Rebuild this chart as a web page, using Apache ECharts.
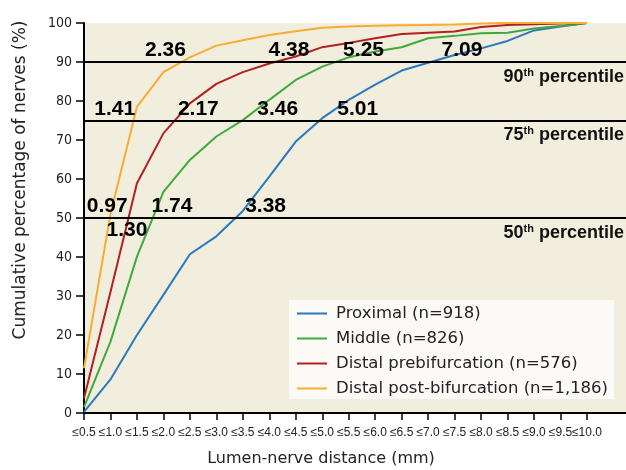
<!DOCTYPE html>
<html>
<head>
<meta charset="utf-8">
<script src="https://cdn.jsdelivr.net/npm/echarts@6/dist/echarts.min.js"></script>
<style>html,body{margin:0;padding:0;background:#fff;}#c{width:626px;height:470px;}</style>
</head>
<body>
<div id="c"></div>
<script>
// Lumen-nerve distance categories (mm, "≤" value)
const distances = [0.5, 1.0, 1.5, 2.0, 2.5, 3.0, 3.5, 4.0, 4.5, 5.0, 5.5, 6.0, 6.5, 7.0, 7.5, 8.0, 8.5, 9.0, 9.5, 10.0];
const seriesNames = ['Proximal (n=918)', 'Middle (n=826)', 'Distal prebifurcation (n=576)', 'Distal post-bifurcation (n=1,186)'];
const proximal   = [0.3, 8.6, 20.0, 30.3, 40.7, 45.3, 51.8, 60.6, 69.6, 75.6, 80.3, 84.2, 87.8, 89.8, 91.8, 93.5, 95.4, 98.1, 99.1, 100];
const middle     = [1.5, 18.3, 40.1, 56.7, 64.9, 70.9, 75.1, 80.3, 85.4, 88.8, 91.2, 92.7, 93.8, 96.1, 96.7, 97.4, 97.5, 98.6, 99.2, 100];
const distalPre  = [3.8, 31.0, 58.9, 71.7, 79.4, 84.4, 87.4, 89.6, 91.4, 93.8, 94.9, 96.1, 97.2, 97.5, 97.8, 99.0, 99.5, 99.7, 99.9, 100];
const distalPost = [11.5, 51.0, 78.5, 87.4, 91.2, 94.2, 95.6, 96.9, 97.9, 98.8, 99.1, 99.3, 99.4, 99.5, 99.6, 99.9, 100, 100, 100, 100];
const yTicks = [0, 10, 20, 30, 40, 50, 60, 70, 80, 90, 100];
// percentile reference lines
const percentileLevels = [90, 75, 50];
const percentileOrdinals = ['90', '75', '50'];
// percentile distance annotations
const annotText  = ['2.36', '4.38', '5.25', '7.09', '1.41', '2.17', '3.46', '5.01', '0.97', '1.74', '3.38', '1.30'];
const annotLevel = [90, 90, 90, 90, 75, 75, 75, 75, 50, 50, 50, 50];
const annotAnchorX = [2.04, 4.37, 5.78, 7.64, 1.08, 2.66, 4.16, 5.67, 0.94, 2.16, 3.93, 1.31];
const annotBelow = [false, false, false, false, false, false, false, false, false, false, false, true];

const colors = ['#2a78c0', '#3faa3b', '#b3201f', '#f9ac34'];
const allSeries = [proximal, middle, distalPre, distalPost];

const chart = echarts.init(document.getElementById('c'), null, {renderer: 'canvas'});

const lineSeries = allSeries.map((vals, k) => ({
  name: seriesNames[k],
  type: 'line',
  symbol: 'none',
  showSymbol: false,
  z: 3,
  data: distances.map((d, i) => [d, vals[i]]),
  lineStyle: {color: colors[k], width: 2},
  itemStyle: {color: colors[k]}
}));

lineSeries[0].markLine = {
  silent: true,
  symbol: ['none', 'none'],
  animation: false,
  lineStyle: {color: '#000', width: 2, type: 'solid'},
  data: percentileLevels.map((p, i) => ({
    yAxis: p,
    label: {
      show: true,
      position: 'insideEndBottom',
      distance: [2, 5],
      formatter: '{n|' + percentileOrdinals[i] + '}{s|th}{n| percentile}',
      rich: {
        n: {fontFamily: 'Liberation Sans', fontWeight: 'bold', fontSize: 18, color: '#111', lineHeight: 20},
        s: {fontFamily: 'Liberation Sans', fontWeight: 'bold', fontSize: 11, color: '#111', verticalAlign: 'top', lineHeight: 11}
      }
    }
  }))
};

const annotSeries = {
  name: 'annotations',
  type: 'scatter',
  symbolSize: 0,
  silent: true,
  z: 5,
  itemStyle: {opacity: 1},
  data: annotText.map((t, i) => ({
    value: [annotAnchorX[i], annotLevel[i], t],
    label: {offset: [0, annotBelow[i] ? 12.5 : -11.5]}
  })),
  label: {
    show: true,
    position: 'inside',
    formatter: p => p.value[2],
    fontFamily: 'Liberation Sans',
    fontWeight: 'bold',
    fontSize: 21,
    color: '#000',
    opacity: 1,
    textBorderWidth: 0
  }
};

chart.setOption({
  animation: false,
  backgroundColor: '#fff',
  grid: {
    left: 84, right: 0, top: 23, bottom: 57,
    show: true, backgroundColor: '#f2eedd', borderWidth: 0,
    containLabel: false, outerBoundsMode: 'none'
  },
  legend: {
    data: seriesNames,
    orient: 'vertical',
    left: 289, top: 300,
    icon: 'rect',
    itemWidth: 30, itemHeight: 2, itemGap: 8,
    backgroundColor: '#fbfaf6',
    padding: [5, 6, 2, 8],
    textStyle: {fontFamily: 'DejaVu Sans', fontSize: 16.5, color: '#222', padding: [0, 0, 0, 4]}
  },
  xAxis: {
    type: 'value',
    min: 0.5,
    max: 10.737,
    axisLine: {show: true, onZero: false, lineStyle: {color: '#000', width: 2}},
    axisTick: {show: true, length: 7, customValues: distances, lineStyle: {color: '#000', width: 1.5}},
    axisLabel: {
      customValues: distances,
      formatter: v => '≤' + Number(v).toFixed(1),
      fontFamily: 'Liberation Sans', fontSize: 12, color: '#222', margin: 14
    },
    splitLine: {show: false}
  },
  yAxis: {
    type: 'value',
    min: 0, max: 100, interval: 10,
    axisLine: {show: true, lineStyle: {color: '#000', width: 2}},
    axisTick: {show: true, length: 8, lineStyle: {color: '#000', width: 1.5}},
    axisLabel: {
      formatter: v => yTicks.includes(v) ? String(v) : '',
      fontFamily: 'DejaVu Sans Condensed', fontSize: 14, color: '#222', margin: 12
    },
    splitLine: {show: false}
  },
  graphic: [{
    type: 'text',
    x: 321, y: 459,
    style: {
      text: 'Lumen-nerve distance (mm)',
      font: '16px "DejaVu Sans"',
      fill: '#222',
      align: 'center', verticalAlign: 'middle',
      textAlign: 'center', textVerticalAlign: 'middle'
    }
  }, {
    type: 'text',
    x: 21, y: 180,
    rotation: Math.PI / 2,
    style: {
      text: 'Cumulative percentage of nerves (%)',
      font: '17px "DejaVu Sans"',
      fill: '#222',
      align: 'center', verticalAlign: 'middle',
      textAlign: 'center', textVerticalAlign: 'middle'
    }
  }],
  series: lineSeries.concat([annotSeries])
});
</script>
</body>
</html>
